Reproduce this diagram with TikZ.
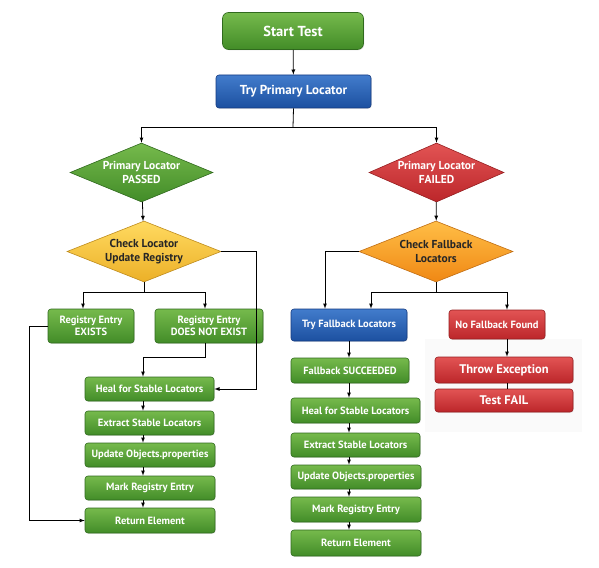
\documentclass[tikz,border=0pt]{standalone}
\usepackage{fontspec}
\setmainfont{PT Sans}
\usetikzlibrary{calc,positioning,shapes,shadows,arrows}

\definecolor{grtop}{RGB}{118,186,76}
\definecolor{grbot}{RGB}{66,140,40}
\definecolor{grline}{RGB}{48,106,30}
\definecolor{bltop}{RGB}{66,124,204}
\definecolor{blbot}{RGB}{28,80,160}
\definecolor{blline}{RGB}{20,58,128}
\definecolor{rdtop}{RGB}{226,84,84}
\definecolor{rdbot}{RGB}{188,38,42}
\definecolor{rdline}{RGB}{150,30,32}
\definecolor{yetop}{RGB}{255,218,96}
\definecolor{yebot}{RGB}{236,176,40}
\definecolor{yeline}{RGB}{190,140,30}
\definecolor{ortop}{RGB}{255,190,70}
\definecolor{orbot}{RGB}{240,136,20}
\definecolor{orline}{RGB}{192,110,20}

\tikzset{
  box/.style={rectangle,rounded corners=3pt,line width=0.6pt,inner sep=0pt,
    align=center,text=white,font=\bfseries\fontsize{10.5}{12}\selectfont,
    drop shadow={opacity=0.18,shadow xshift=0.8pt,shadow yshift=-0.8pt}},
  greenbox/.style={box,draw=grline,top color=grtop,bottom color=grbot},
  bluebox/.style={box,draw=blline,top color=bltop,bottom color=blbot},
  redbox/.style={box,draw=rdline,top color=rdtop,bottom color=rdbot},
  decision/.style={diamond,aspect=2.4,inner sep=0pt,line width=0.6pt,align=center,
    font=\bfseries\fontsize{11.5}{14}\selectfont},
  link/.style={line width=0.8pt,->}
}

\begin{document}
\begin{tikzpicture}[x=1pt,y=-1pt,>=latex]
\useasboundingbox (0,0) rectangle (599,567);
% faint patch behind the failure boxes
\fill[black!2] (425,339) rectangle (582,432);

\node[greenbox,rounded corners=6pt,minimum width=141pt,minimum height=37pt,
  font=\bfseries\fontsize{14.5}{16}\selectfont](start) at (293,31) {Start Test};
\node[bluebox,minimum width=155pt,minimum height=33pt,
  font=\bfseries\fontsize{13}{15}\selectfont](try) at (293.5,91.5) {Try Primary Locator};

\node[decision,draw=grline,top color=grtop,bottom color=grbot,text=white,
  minimum width=143pt,minimum height=59pt](passed) at (141.5,172.5) {Primary Locator\\PASSED};
\node[decision,draw=rdline,top color=rdtop,bottom color=rdbot,text=white,
  minimum width=135pt,minimum height=59pt](failed) at (436.5,172.5) {Primary Locator\\FAILED};
\node[decision,draw=yeline,top color=yetop,bottom color=yebot,text=black!85,
  minimum width=154pt,minimum height=61pt](check) at (144,251.5) {Check Locator\\Update Registry};
\node[decision,draw=orline,top color=ortop,bottom color=orbot,text=black!85,
  minimum width=154pt,minimum height=61pt](fallback) at (436,251.5) {Check Fallback\\Locators};

% left branch
\node[greenbox,minimum width=86pt,minimum height=34pt](exists) at (91,326) {Registry Entry\\EXISTS};
\node[greenbox,minimum width=108pt,minimum height=34pt](notexist) at (209,326) {Registry Entry\\DOES NOT EXIST};
\node[greenbox,minimum width=129pt,minimum height=24pt](heal1) at (149.5,389) {Heal for Stable Locators};
\node[greenbox,minimum width=129pt,minimum height=24pt](extract1) at (149.5,423) {Extract Stable Locators};
\node[greenbox,minimum width=130pt,minimum height=24pt](update1) at (150,455) {Update Objects.properties};
\node[greenbox,minimum width=130pt,minimum height=24pt](mark1) at (150,488) {Mark Registry Entry};
\node[greenbox,minimum width=130pt,minimum height=25pt](return1) at (150,520.5) {Return Element};

% right branch
\node[bluebox,minimum width=116pt,minimum height=32pt](tryfb) at (349,325) {Try Fallback Locators};
\node[redbox,minimum width=96pt,minimum height=29pt](nofb) at (497,324.5) {No Fallback Found};
\node[greenbox,minimum width=118pt,minimum height=25pt](succeeded) at (350,370.5) {Fallback SUCCEEDED};
\node[greenbox,minimum width=129pt,minimum height=25pt](heal2) at (355.5,410.5) {Heal for Stable Locators};
\node[greenbox,minimum width=129pt,minimum height=24pt](extract2) at (355.5,445) {Extract Stable Locators};
\node[greenbox,minimum width=130pt,minimum height=24pt](update2) at (356,477) {Update Objects.properties};
\node[greenbox,minimum width=130pt,minimum height=25pt](mark2) at (356,509.5) {Mark Registry Entry};
\node[greenbox,minimum width=130pt,minimum height=26pt](return2) at (356,543) {Return Element};
\node[redbox,minimum width=138pt,minimum height=26pt,
  font=\bfseries\fontsize{12.5}{14}\selectfont](throw) at (504,370) {Throw Exception};
\node[redbox,minimum width=138pt,minimum height=23pt,
  font=\bfseries\fontsize{12.5}{14}\selectfont](fail) at (504,400.5) {Test FAIL};

\coordinate (split1) at (293,127);
\coordinate (split2) at (144,292);
\coordinate (split3) at (436,292);
\coordinate (lcol) at (143,0);
\coordinate (rcol) at (349,0);
\coordinate (fcol) at (507,0);

\path [link]
(start) edge (try)
(passed) edge (check)
(failed) edge (fallback);
\draw[line width=0.8pt] (try.south) -- (split1);
\draw[link] (split1) -| (passed.north);
\draw[link] (split1) -| (failed.north);

\draw[line width=0.8pt] (check.south) -- (split2);
\draw[link] (split2) -| ([xshift=-8pt]exists.north);
\draw[link] (split2) -| ([xshift=-4pt]notexist.north);
\draw[link] (check.east) -- ++(35,0) |- (heal1.east);
\draw[link] (exists.west) -- ++(-18,0) |- (return1.west);
\draw[link] ([xshift=-4pt]notexist.south) -- ++(0,14) -| (heal1.north -| lcol);
\foreach \a/\b in {heal1/extract1,extract1/update1,update1/mark1,mark1/return1}
  \draw[link] (\a.south -| lcol) -- (\b.north -| lcol);

\draw[line width=0.8pt] (fallback.south) -- (split3);
\draw[link] (fallback.west) -| ([xshift=-24pt]tryfb.north);
\draw[link] (split3) -| ([xshift=22pt]tryfb.north);
\draw[link] (split3) -| (nofb.north -| fcol);
\foreach \a/\b in {tryfb/succeeded,succeeded/heal2,heal2/extract2,extract2/update2,update2/mark2,mark2/return2}
  \draw[link] (\a.south -| rcol) -- (\b.north -| rcol);
\draw[link] (nofb.south -| fcol) -- (throw.north -| fcol);
\draw[line width=0.8pt] (throw.south -| fcol) -- (fail.north -| fcol);
\end{tikzpicture}
\end{document}
